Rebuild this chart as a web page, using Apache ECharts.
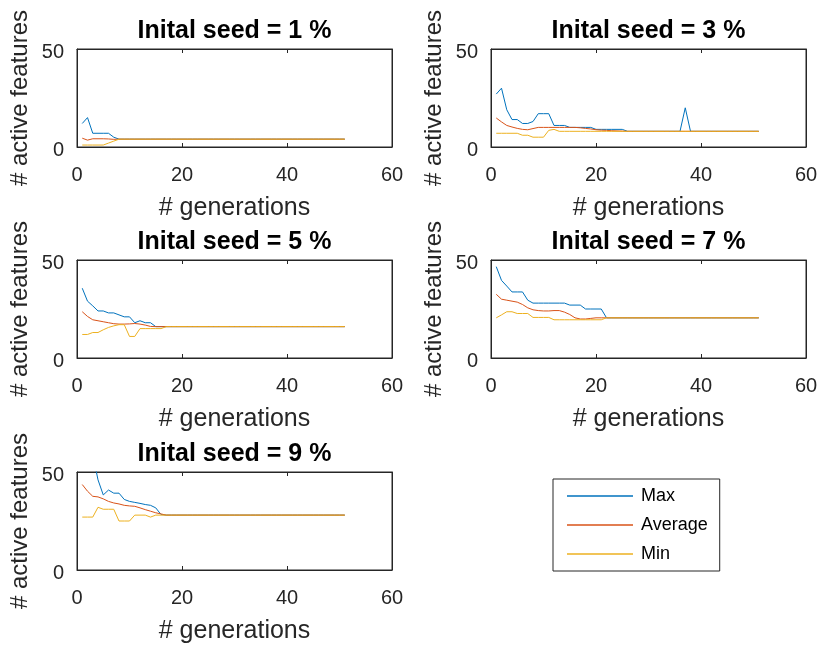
<!DOCTYPE html>
<html><head><meta charset="utf-8">
<script src="https://cdn.jsdelivr.net/npm/echarts@6/dist/echarts.min.js"></script>
<style>html,body{margin:0;padding:0;background:#fff}#c{width:821px;height:646px}</style>
</head><body><div id="c"></div>
<script>
const generations = [1,2,3,4,5,6,7,8,9,10,11,12,13,14,15,16,17,18,19,20,21,22,23,24,25,26,27,28,29,30,31,32,33,34,35,36,37,38,39,40,41,42,43,44,45,46,47,48,49,50,51];
const seedTitles = ['Inital seed = 1 %','Inital seed = 3 %','Inital seed = 5 %','Inital seed = 7 %','Inital seed = 9 %'];
const seriesNames = ['Max','Average','Min'];
const xAxisName = '# generations';
const yAxisName = '# active features';

// seed 1 %
const max1 = [12,15,7,7,7,7,5,4,4,4, 4,4,4,4,4,4,4,4,4,4, 4,4,4,4,4,4,4,4,4,4, 4,4,4,4,4,4,4,4,4,4, 4,4,4,4,4,4,4,4,4,4, 4];
const avg1 = [4.5,3.5,4.2,4.2,4.2,4.1,3.9,4,4,4, 4,4,4,4,4,4,4,4,4,4, 4,4,4,4,4,4,4,4,4,4, 4,4,4,4,4,4,4,4,4,4, 4,4,4,4,4,4,4,4,4,4, 4];
const min1 = [1,1,1,1,1,2,3,4,4,4, 4,4,4,4,4,4,4,4,4,4, 4,4,4,4,4,4,4,4,4,4, 4,4,4,4,4,4,4,4,4,4, 4,4,4,4,4,4,4,4,4,4, 4];
// seed 3 %
const max2 = [27,30,19,14,14,12,12,13,17,17, 17,11,11,11,10,10,10,10,10,9, 9,9,9,9,9,8,8,8,8,8, 8,8,8,8,8,8,20,8,8,8, 8,8,8,8,8,8,8,8,8,8, 8];
const avg2 = [14.8,12.8,11,10.2,9.5,9,8.8,9.4,10,10, 10,10,10,10,10,10,9.8,9.5,9.2,8.8, 8.6,8.5,8.3,8.2,8.1,8,8,8,8,8, 8,8,8,8,8,8,8,8,8,8, 8,8,8,8,8,8,8,8,8,8, 8];
const min2 = [7,7,7,7,7,6,6,5,5,5, 8.5,9,8,8,8,8,8,8,8,8, 8,8,8,8,8,8,8,8,8,8, 8,8,8,8,8,8,8,8,8,8, 8,8,8,8,8,8,8,8,8,8, 8];
// seed 5 %
const max3 = [35.6,29,26.6,24,24,23,23,22,21,21, 18,19,18,18,16,16,16,16,16,16, 16,16,16,16,16,16,16,16,16,16, 16,16,16,16,16,16,16,16,16,16, 16,16,16,16,16,16,16,16,16,16, 16];
const avg3 = [23.6,21.2,19.5,19,18.5,18,17.5,17.3,17.3,17.4, 17.6,17.3,16.8,16.1,16,16,16,16,16,16, 16,16,16,16,16,16,16,16,16,16, 16,16,16,16,16,16,16,16,16,16, 16,16,16,16,16,16,16,16,16,16, 16];
const min3 = [12,12,13,13,14.4,15.6,16.4,17,17,11, 11,15,15,15,15,15,16,16,16,16, 16,16,16,16,16,16,16,16,16,16, 16,16,16,16,16,16,16,16,16,16, 16,16,16,16,16,16,16,16,16,16, 16];
// seed 7 %
const max4 = [46.6,39.6,36.7,33.7,33.7,33.7,29.5,28,28,28, 28,28,28,28,27,27,27,25,25,25, 25,20.5,20.5,20.5,20.5,20.5,20.5,20.5,20.5,20.5, 20.5,20.5,20.5,20.5,20.5,20.5,20.5,20.5,20.5,20.5, 20.5,20.5,20.5,20.5,20.5,20.5,20.5,20.5,20.5,20.5, 20.5];
const avg4 = [32.5,30,29.5,29,28.5,27.3,25.6,24.6,24.2,24, 24,24.2,24.2,23.4,22.2,20.5,19.9,19.9,20.2,20.5, 20.5,20.5,20.5,20.5,20.5,20.5,20.5,20.5,20.5,20.5, 20.5,20.5,20.5,20.5,20.5,20.5,20.5,20.5,20.5,20.5, 20.5,20.5,20.5,20.5,20.5,20.5,20.5,20.5,20.5,20.5, 20.5];
const min4 = [20.5,22,23.6,23.6,22.7,22.7,22.7,20.7,20.7,20.7, 20.7,19.5,19.5,19.5,19.5,19.5,19.5,19.5,19.5,19.5, 19.5,20.5,20.5,20.5,20.5,20.5,20.5,20.5,20.5,20.5, 20.5,20.5,20.5,20.5,20.5,20.5,20.5,20.5,20.5,20.5, 20.5,20.5,20.5,20.5,20.5,20.5,20.5,20.5,20.5,20.5, 20.5];
// seed 9 %
const max5 = [56,60,59,46,38.3,40.8,39.2,39.2,36,35, 34.5,34,33.4,33,31.7,28.3,28,28,28,28, 28,28,28,28,28,28,28,28,28,28, 28,28,28,28,28,28,28,28,28,28, 28,28,28,28,28,28,28,28,28,28, 28];
const avg5 = [43.6,40.2,37.6,37.3,36.3,35,34.2,33.7,33,32.7, 32.5,31.7,30.8,30,29.2,28.6,28,28,28,28, 28,28,28,28,28,28,28,28,28,28, 28,28,28,28,28,28,28,28,28,28, 28,28,28,28,28,28,28,28,28,28, 28];
const min5 = [27,27,27,32,31,31,31,25,25,25, 28,28,28,27,28,28,28,28,28,28, 28,28,28,28,28,28,28,28,28,28, 28,28,28,28,28,28,28,28,28,28, 28,28,28,28,28,28,28,28,28,28, 28];

const plots = [[max1,avg1,min1],[max2,avg2,min2],[max3,avg3,min3],[max4,avg4,min4],[max5,avg5,min5]];
const colors = ['#0072BD','#D95319','#EDB120'];
const FONT = "'Liberation Sans', Arial, Helvetica, sans-serif";
const AX = '#262626';

const lefts = [77, 491, 77, 491, 77];
const tops = [49, 49, 260, 260, 472];
const W = 315, H = 98;

const grid = [], xAxis = [], yAxis = [], series = [], title = [];
plots.forEach((p, i) => {
  grid.push({left: lefts[i], top: tops[i], width: W, height: H, show: true, borderColor: AX, borderWidth: 1, backgroundColor: '#fff', containLabel: false});
  title.push({text: seedTitles[i], left: lefts[i] + W/2, top: tops[i] - 30, textAlign: 'center', padding: 0,
    textStyle: {fontFamily: FONT, fontSize: 25, fontWeight: 'bold', color: '#000'}});
  const tick = {show: true, inside: true, length: 4, lineStyle: {color: AX, width: 1}};
  xAxis.push({type: 'value', gridIndex: i, min: 0, max: 60, interval: 20, position: 'bottom',
    axisLine: {show: true, onZero: false, lineStyle: {color: AX, width: 1}}, axisTick: tick,
    splitLine: {show: false},
    axisLabel: {fontFamily: FONT, fontSize: 20, color: AX, margin: 18},
    name: xAxisName, nameLocation: 'middle', nameGap: 49,
    nameTextStyle: {fontFamily: FONT, fontSize: 25, color: AX}});
  xAxis.push({type: 'value', gridIndex: i, min: 0, max: 60, interval: 20, position: 'top',
    axisLine: {show: true, onZero: false, lineStyle: {color: AX, width: 1}}, axisTick: tick,
    splitLine: {show: false}, axisLabel: {show: false}});
  yAxis.push({type: 'value', gridIndex: i, min: 0, max: 50, interval: 50, position: 'left',
    axisLine: {show: true, onZero: false, lineStyle: {color: AX, width: 1}}, axisTick: tick,
    splitLine: {show: false},
    axisLabel: {margin: 13, formatter: '{v|{value}}',
      rich: {v: {fontFamily: FONT, fontSize: 20, color: AX, padding: [7, 0, 0, 0]}}},
    name: yAxisName, nameLocation: 'middle', nameGap: 45, nameRotate: 90,
    nameTextStyle: {fontFamily: FONT, fontSize: 24, color: AX}});
  yAxis.push({type: 'value', gridIndex: i, min: 0, max: 50, interval: 50, position: 'right',
    axisLine: {show: true, onZero: false, lineStyle: {color: AX, width: 1}}, axisTick: tick,
    splitLine: {show: false}, axisLabel: {show: false}});
  p.forEach((vals, k) => {
    series.push({type: 'line', name: seriesNames[k], xAxisIndex: 2*i, yAxisIndex: 2*i,
      data: generations.map((g, j) => [g, vals[j]]),
      symbol: 'none', showSymbol: false, clip: true, color: colors[k],
      lineStyle: {width: 1, color: colors[k]}, z: 2 + k});
  });
});

const chart = echarts.init(document.getElementById('c'), null, {renderer: 'canvas'});
chart.setOption({
  animation: false,
  backgroundColor: '#fff',
  title, grid, xAxis, yAxis, series,
  legend: {data: seriesNames, orient: 'vertical', left: 553, top: 479,
    icon: 'rect', padding: [8, 12, 8, 14], itemWidth: 66, itemHeight: 1.5, itemGap: 11,
    borderColor: AX, borderWidth: 1, backgroundColor: '#fff',
    textStyle: {fontFamily: FONT, fontSize: 18, lineHeight: 18, color: '#000', padding: [0, 0, 0, 3]}}
});
</script>
</body></html>
